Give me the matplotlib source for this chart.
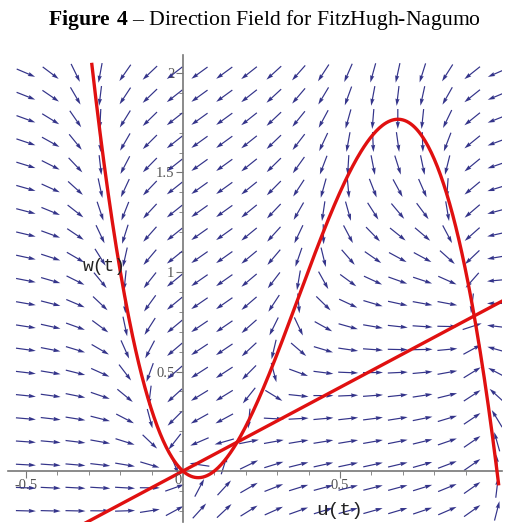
"""Direction field for FitzHugh-Nagumo."""
import numpy as np
import matplotlib
matplotlib.use("Agg")
import matplotlib.pyplot as plt
from matplotlib.ticker import MultipleLocator

plt.rcParams["mathtext.fontset"] = "custom"
plt.rcParams["mathtext.rm"] = "Liberation Serif"
plt.rcParams["mathtext.bf"] = "Liberation Serif:bold"

# system parameters
k = 14.0       # cubic gain
a = 0.1        # cubic threshold
slope = 0.84   # w-nullcline slope (w = slope * u)
eps = 1.0      # time-scale ratio

# arrow grid (20 x 20, as in the original plot)
u_grid = np.linspace(-0.5, 1.0, 20)
w_grid = np.linspace(-0.2, 2.0, 20)

# nullcline ranges
u_cubic = np.linspace(-0.29, 1.005, 400)
u_line = np.array([-0.32, 1.02])

x_ticks = [-0.5, 0.5]
x_labels = ["-0.5", "0.5"]
y_ticks = [0.5, 1.0, 1.5, 2.0]
y_labels = ["0.5", "1", "1.5", "2"]

fig = plt.figure(figsize=(5.06, 5.23), dpi=100)
ax = fig.add_axes([8 / 506, 1 / 523, 494 / 506, 467 / 523])
ax.set_xlim(-0.557, 1.016)
ax.set_ylim(-0.256, 2.09)

# pixels per data unit, used to normalise arrows on screen
sx = 314.0
sy = 199.0

U, W = np.meshgrid(u_grid, w_grid)
du = k * U * (U - a) * (1 - U) - W
dw = eps * (U - W / slope)
px = du * sx
py = dw * sy
norm = np.hypot(px, py)
norm[norm == 0] = 1
L = 20.0
ax.quiver(U, W, px / norm * L, py / norm * L, angles="uv",
          scale_units="dots", scale=1, units="dots", width=1.2,
          headwidth=3.5, headlength=6, headaxislength=5.5,
          pivot="middle", color="#34348a", zorder=2)

ax.plot(u_cubic, k * u_cubic * (u_cubic - a) * (1 - u_cubic),
        color="#e01010", lw=2.4, zorder=3)
ax.plot(u_line, slope * u_line, color="#e01010", lw=2.4, zorder=3)

for s in ["top", "right"]:
    ax.spines[s].set_visible(False)
ax.spines["left"].set_position(("data", 0))
ax.spines["bottom"].set_position(("data", 0))
ax.spines["left"].set_color("#777777")
ax.spines["bottom"].set_color("#777777")
ax.spines["left"].set_linewidth(1.2)
ax.spines["bottom"].set_linewidth(1.2)

ax.set_xticks(x_ticks)
ax.set_xticklabels(x_labels)
ax.set_yticks(y_ticks)
ax.set_yticklabels(y_labels)
ax.xaxis.set_minor_locator(MultipleLocator(0.1))
ax.yaxis.set_minor_locator(MultipleLocator(0.1))
ax.tick_params(which="both", color="#777777", labelcolor="#555555",
               labelsize=10.5, pad=1)
ax.tick_params(which="major", length=5)
ax.tick_params(which="minor", length=3)
for lab in ax.get_xticklabels() + ax.get_yticklabels():
    lab.set_family("Liberation Serif")
ax.text(-0.005, -0.015, "0", ha="right", va="top", fontsize=10.5,
        color="#555555", family="Liberation Serif")

ax.text(-0.25, 1.03, "w(t)", ha="center", va="center", fontsize=13,
        family="Liberation Mono", color="#222222")
ax.text(0.5, -0.2, "u(t)", ha="center", va="center", fontsize=14,
        family="Liberation Mono", color="#222222")

fig.text(264 / 506, 1 - 20 / 523,
         r"$\mathbf{Figure\ 4}$ – Direction Field for FitzHugh-Nagumo",
         ha="center", va="center", fontsize=15.6, family="Liberation Serif")

fig.savefig("out.png", dpi=100)
